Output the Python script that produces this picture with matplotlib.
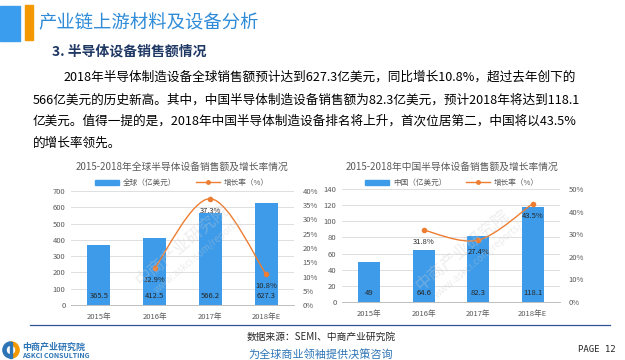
import numpy as np
import matplotlib
matplotlib.use('Agg')
import matplotlib.pyplot as plt
from matplotlib.path import Path
from matplotlib.patches import PathPatch, Rectangle, Wedge
from matplotlib.lines import Line2D

plt.rcParams['font.family'] = ['Noto Sans CJK SC', 'DejaVu Sans']

# 数据
years = ['2015年', '2016年', '2017年', '2018年E']
global_sales = [365.5, 412.5, 566.2, 627.3]
global_growth = [None, 12.9, 37.3, 10.8]
china_sales = [49, 64.6, 82.3, 118.1]
china_growth = [None, 31.8, 27.4, 43.5]

global_title = '2015-2018年全球半导体设备销售额及增长率情况'
china_title = '2015-2018年中国半导体设备销售额及增长率情况'
global_bar_label = '全球（亿美元）'
china_bar_label = '中国（亿美元）'
growth_label = '增长率（%）'

paragraph = [
    '2018年半导体制造设备全球销售额预计达到627.3亿美元，同比增长10.8%，超过去年创下的',
    '566亿美元的历史新高。其中，中国半导体制造设备销售额为82.3亿美元，预计2018年将达到118.1',
    '亿美元。值得一提的是，2018年中国半导体制造设备排名将上升，首次位居第二，中国将以43.5%',
    '的增长率领先。',
]

W, H = 625, 360
BAR_C = '#3d9be9'
LINE_C = '#ed7d31'
TXT_C = '#595959'

fig = plt.figure(figsize=(W / 100, H / 100), dpi=100)
fig.patch.set_facecolor('white')


def px(x, y):
    return x / W, 1 - y / H


def smooth_path(ax, xs, ys):
    # Excel 风格平滑线：在显示坐标下做 Catmull-Rom -> Bezier
    pts = ax.transData.transform(np.column_stack([xs, ys]))
    n = len(pts)
    verts = [pts[0]]
    codes = [Path.MOVETO]
    for i in range(n - 1):
        p0 = pts[i - 1] if i > 0 else pts[i]
        p1 = pts[i]
        p2 = pts[i + 1]
        p3 = pts[i + 2] if i + 2 < n else pts[i + 1]
        c1 = p1 + (p2 - p0) / 6
        c2 = p2 - (p3 - p1) / 6
        verts += [c1, c2, p2]
        codes += [Path.CURVE4] * 3
    verts = ax.transData.inverted().transform(np.array(verts))
    return Path(verts, codes)


def draw_chart(rect, sales, growth, ymax, ystep, pmax, pstep, title, bar_label,
               title_xy, legend_y, bar_w):
    l, t, r, b = rect
    ax = fig.add_axes([l / W, 1 - b / H, (r - l) / W, (b - t) / H])
    x = np.arange(len(sales))
    ax.bar(x, sales, width=bar_w, color=BAR_C, zorder=2)
    ax.set_xlim(-0.5, len(sales) - 0.5)
    ax.set_ylim(0, ymax)
    ax.set_yticks(np.arange(0, ymax + 1, ystep))
    ax.yaxis.grid(True, color='#d9d9d9', linewidth=0.6)
    ax.set_axisbelow(True)
    for s in ['top', 'right', 'left']:
        ax.spines[s].set_visible(False)
    ax.spines['bottom'].set_color('#bfbfbf')
    ax.spines['bottom'].set_linewidth(0.7)
    ax.tick_params(length=0, labelsize=5.5, labelcolor=TXT_C, pad=4)
    ax.set_xticks(x)
    ax.set_xticklabels(years)
    ax.tick_params(axis='x', pad=6)
    for xi, v in zip(x, sales):
        lab = ('%g' % v) if float(v).is_integer() else '%.1f' % v
        ax.annotate(lab, (xi, 0), xytext=(0, 9), textcoords='offset pixels',
                    ha='center', va='center', fontsize=5.5, color='#262626', zorder=4)

    ax2 = ax.twinx()
    ax2.set_ylim(0, pmax)
    ax2.set_yticks(np.arange(0, pmax + 1, pstep))
    ax2.set_yticklabels(['%d%%' % v for v in np.arange(0, pmax + 1, pstep)])
    for s in ['top', 'right', 'left', 'bottom']:
        ax2.spines[s].set_visible(False)
    ax2.tick_params(length=0, labelsize=5.5, labelcolor=TXT_C, pad=6)

    gx = [i for i, g in enumerate(growth) if g is not None]
    gy = [g for g in growth if g is not None]
    fig.canvas.draw()
    ax2.add_patch(PathPatch(smooth_path(ax2, gx, gy), fill=False, edgecolor=LINE_C,
                            linewidth=1.0, zorder=3))
    ax2.plot(gx, gy, 'o', color=LINE_C, markersize=3, zorder=4)
    for xi, g in zip(gx, gy):
        ax2.annotate('%.1f%%' % g, (xi, g), xytext=(0, -12), textcoords='offset pixels',
                     ha='center', va='center', fontsize=5.5, color='#262626', zorder=5)

    fig.text(*px(*title_xy), title, ha='center', va='center', fontsize=7, color=TXT_C)
    handles = [Rectangle((0, 0), 1, 1, color=BAR_C),
               Line2D([], [], color=LINE_C, marker='o', markersize=2.5, linewidth=1)]
    fig.legend(handles, [bar_label, growth_label], loc='center',
               bbox_to_anchor=px(title_xy[0], legend_y), ncol=2, frameon=False,
               fontsize=5.5, labelcolor=TXT_C, handlelength=3.2, handleheight=0.7,
               columnspacing=2.5, handletextpad=0.5)
    return ax


draw_chart((71, 191, 294, 305), global_sales, global_growth, 700, 100, 40, 5,
           global_title, global_bar_label, (182, 167), 183, 0.41)
draw_chart((342, 189, 560, 302), china_sales, china_growth, 140, 20, 50, 10,
           china_title, china_bar_label, (452, 167), 183, 0.40)

# 水印
for cx, cy in [(190, 245), (470, 250)]:
    fig.text(*px(cx - 8, cy), '中商产业研究院', rotation=40, ha='center', va='center',
             fontsize=12, color='#cccccc', alpha=0.35, zorder=10)
    fig.text(*px(cx + 8, cy + 10), 'www.askci.com/reports/', rotation=40, ha='center',
             va='center', fontsize=7, color='#cccccc', alpha=0.35, zorder=10)

# 标题栏
fig.patches.append(Rectangle(px(0, 41), 20 / W, 35 / H, transform=fig.transFigure,
                             color='#3b9ded', zorder=1))
fig.patches.append(Rectangle(px(25, 40), 8 / W, 35 / H, transform=fig.transFigure,
                             color='#f39800', zorder=1))
fig.text(*px(38, 23), '产业链上游材料及设备分析', ha='left', va='center',
         fontsize=13.2, color='#2e8bd8')
fig.text(*px(52, 52), '3. 半导体设备销售额情况', ha='left', va='center',
         fontsize=10, fontweight='bold', color='#1f3864')

# 正文
line_x = [64, 33, 33, 33]
line_y = [77, 100, 121, 143]
for s, lx, ly in zip(paragraph, line_x, line_y):
    fig.text(*px(lx, ly), s, ha='left', va='center', fontsize=9.1, color='#000000')

# 底部
fig.add_artist(Line2D([30 / W, 610 / W], [1 - 325 / H] * 2, transform=fig.transFigure,
                      color='#2f5597', linewidth=0.9))
fig.text(*px(321, 337), '数据来源：SEMI、中商产业研究院', ha='center', va='center',
         fontsize=7, color='#262626')
fig.text(*px(22, 347), '中商产业研究院', ha='left', va='center', fontsize=6.5,
         fontweight='bold', color='#2e75b6')
fig.text(*px(22, 356), 'ASKCI CONSULTING', ha='left', va='center', fontsize=5,
         fontweight='bold', color='#2e75b6')
fig.text(*px(321, 354), '为全球商业领袖提供决策咨询', ha='center', va='center',
         fontsize=8, style='italic', color='#2e75b6')
fig.text(*px(616, 349), 'PAGE 12', ha='right', va='center', fontsize=6.5,
         family='DejaVu Sans Mono', color='#262626')

lax = fig.add_axes([2 / W, 1 - 360 / H, 18 / W, 20 / H])
lax.set_xlim(-1, 1)
lax.set_ylim(-1.1, 1.1)
lax.set_aspect('equal')
lax.axis('off')
lax.add_patch(Wedge((0, 0), 0.9, 90, 270, width=0.35, color='#2e75b6'))
lax.add_patch(Wedge((0, 0), 0.9, -90, 90, width=0.35, color='#f39800'))
lax.add_patch(Rectangle((-0.1, -0.9), 0.2, 1.8, color='#2e75b6'))

fig.savefig('out.png', dpi=100)
